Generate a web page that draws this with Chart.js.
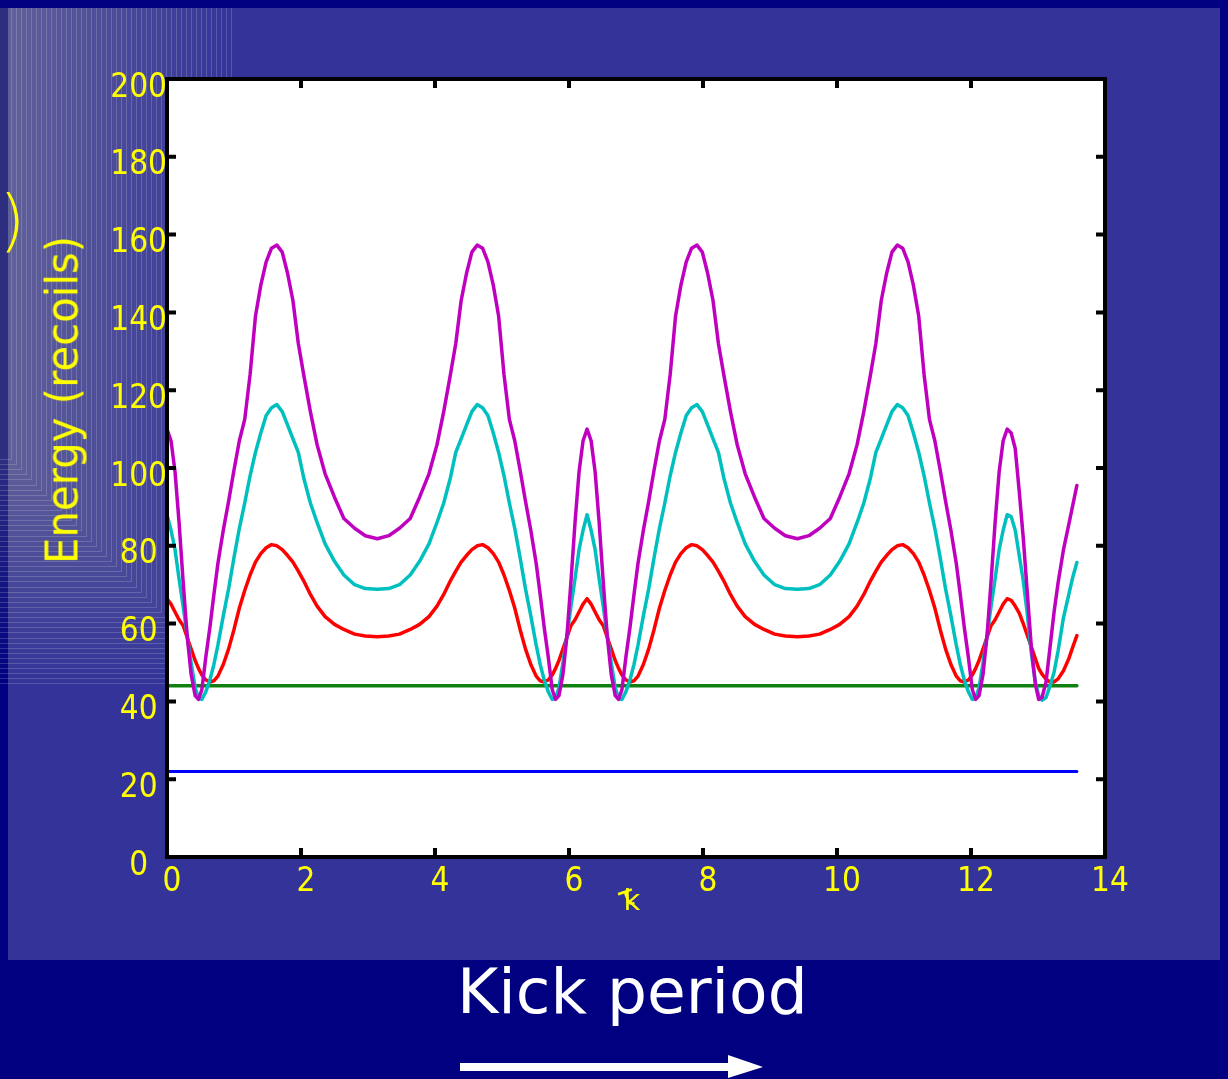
<!DOCTYPE html>
<html>
<head>
<meta charset="utf-8">
<script src="https://cdn.jsdelivr.net/npm/chart.js@4.4.1/dist/chart.umd.min.js"></script>
<style>
  html, body { margin: 0; padding: 0; }
  body { width: 1228px; height: 1079px; background: #000080; position: relative; overflow: hidden; font-family: 'DejaVu Sans', sans-serif; }
  #panel { position: absolute; left: 8px; top: 8px; width: 1212px; height: 952px; background: #333399; }
  #deco { position: absolute; left: 0; top: 0; width: 1228px; height: 1079px; }
  #deco div { position: absolute; box-sizing: border-box; border-right: 1px solid rgba(255,255,255,0.17); border-bottom: 1px solid rgba(255,255,255,0.17); background: rgba(255,255,255,0.0075); }
  #chart { position: absolute; left: 0; top: 0; }
  .txt { position: absolute; white-space: nowrap; line-height: 1; }
  #ytitle { left: 62px; top: 400px; font-size: 45px; color: #ffff00; transform: translate(-50%, -50%) rotate(-90deg) scaleX(0.93); }
  #paren { left: -1px; top: 187px; font-size: 68px; font-weight: 200; color: #ffff00; }
  #xtitle { left: 618px; top: 886px; font-size: 29px; color: #ffff00; }
  #xtitle .tau { display: inline-block; transform: rotate(-20deg); margin-right: -12px; position: relative; top: -4px; }
  #kick { left: 457px; top: 960px; font-size: 63px; color: #ffffff; }
  #arrow { position: absolute; left: 0; top: 0; }
</style>
</head>
<body>
<div id="panel"></div>
<div id="deco"></div>
<canvas id="chart" width="1228" height="1079"></canvas>
<div class="txt" id="paren">)</div>
<div class="txt" id="ytitle">Energy (recoils)</div>
<div class="txt" id="xtitle"><span class="tau">τ</span>k</div>
<div class="txt" id="kick">Kick period</div>
<svg id="arrow" width="1228" height="1079">
  <rect x="460" y="1063" width="270" height="8" fill="#ffffff"/>
  <polygon points="728,1055 763,1067 728,1078" fill="#ffffff"/>
</svg>
<script>
// ---- data ----
const kickPeriod = [
  0, 0.06, 0.12, 0.18, 0.24, 0.3, 0.36, 0.42, 0.47, 0.52, 0.58, 0.64, 0.7, 0.76, 0.84, 0.92, 1, 1.08, 1.16, 1.24, 1.32, 1.4, 1.48, 1.56, 1.64, 1.72, 1.8, 1.88, 1.96, 2.04, 2.14, 2.24, 2.36, 2.5, 2.64, 2.8, 2.96, 3.14,
  3.31, 3.47, 3.63, 3.77, 3.91, 4.03, 4.13, 4.23, 4.31, 4.39, 4.47, 4.55, 4.63, 4.71, 4.79, 4.87, 4.95, 5.03, 5.11, 5.19, 5.27, 5.35, 5.43, 5.51, 5.57, 5.63, 5.69, 5.75, 5.8, 5.85, 5.91, 5.97, 6.03, 6.09, 6.15, 6.21, 6.27,
  6.33, 6.39, 6.45, 6.51, 6.57, 6.63, 6.69, 6.74, 6.79, 6.85, 6.91, 6.97, 7.03, 7.11, 7.19, 7.27, 7.35, 7.43, 7.51, 7.59, 7.67, 7.75, 7.83, 7.91, 7.99, 8.07, 8.15, 8.23, 8.31, 8.41, 8.51, 8.63, 8.77, 8.91, 9.07, 9.23, 9.41,
  9.58, 9.74, 9.9, 10.04, 10.18, 10.3, 10.4, 10.5, 10.58, 10.66, 10.74, 10.82, 10.9, 10.98, 11.06, 11.14, 11.22, 11.3, 11.38, 11.46, 11.54, 11.62, 11.7, 11.78, 11.84, 11.9, 11.96, 12.02, 12.07, 12.12, 12.18, 12.24, 12.3, 12.36, 12.42, 12.48, 12.54,
  12.6, 12.66, 12.72, 12.78, 12.84, 12.9, 12.96, 13.01, 13.06, 13.12, 13.18, 13.24, 13.3, 13.38, 13.46, 13.52, 13.58
];
const energyMagenta = [
  110, 107, 99, 86, 71, 57, 47, 41.5, 40.5, 43, 51.5, 59, 67.5, 75.5, 84, 91.5, 99.5, 107, 112.5, 124, 139, 147, 153, 156.5, 157.3, 155.5, 150, 143, 132, 124, 114.5, 106, 98.5, 92.5, 87, 84.5, 82.6, 81.8,
  82.6, 84.5, 87, 92.5, 98.5, 106, 114.5, 124, 132, 143, 150, 155.5, 157.3, 156.5, 153, 147, 139, 124, 112.5, 107, 99.5, 91.5, 84, 75.5, 67.5, 59, 51.5, 43, 40.5, 41.5, 47, 57, 71, 86, 99, 107, 110,
  107, 99, 86, 71, 57, 47, 41.5, 40.5, 43, 51.5, 59, 67.5, 75.5, 84, 91.5, 99.5, 107, 112.5, 124, 139, 147, 153, 156.5, 157.3, 155.5, 150, 143, 132, 124, 114.5, 106, 98.5, 92.5, 87, 84.5, 82.6, 81.8,
  82.6, 84.5, 87, 92.5, 98.5, 106, 114.5, 124, 132, 143, 150, 155.5, 157.3, 156.5, 153, 147, 139, 124, 112.5, 107, 99.5, 91.5, 84, 75.5, 67.5, 59, 51.5, 43, 40.5, 41.5, 47, 57, 71, 86, 99, 107, 110,
  109, 105, 94, 82, 68, 54, 44.5, 40.5, 41, 45, 54, 63, 70.5, 79, 85.5, 90.5, 95.5
];
const energyCyan = [
  88, 84, 79, 71.5, 64.5, 57, 50, 43.5, 41, 40.5, 42.5, 45.5, 49.5, 54.5, 62, 69, 77, 84.5, 91, 98, 104, 109, 113.5, 115.5, 116.3, 114.5, 111, 107.5, 104, 97.5, 91, 86, 80.5, 76, 72.5, 70, 69, 68.8,
  69, 70, 72.5, 76, 80.5, 86, 91, 97.5, 104, 107.5, 111, 114.5, 116.3, 115.5, 113.5, 109, 104, 98, 91, 84.5, 77, 69, 62, 54.5, 49.5, 45.5, 42.5, 40.5, 41, 43.5, 50, 57, 64.5, 71.5, 79, 84, 88,
  84, 79, 71.5, 64.5, 57, 50, 43.5, 41, 40.5, 42.5, 45.5, 49.5, 54.5, 62, 69, 77, 84.5, 91, 98, 104, 109, 113.5, 115.5, 116.3, 114.5, 111, 107.5, 104, 97.5, 91, 86, 80.5, 76, 72.5, 70, 69, 68.8,
  69, 70, 72.5, 76, 80.5, 86, 91, 97.5, 104, 107.5, 111, 114.5, 116.3, 115.5, 113.5, 109, 104, 98, 91, 84.5, 77, 69, 62, 54.5, 49.5, 45.5, 42.5, 40.5, 41, 43.5, 50, 57, 64.5, 71.5, 79, 84, 88,
  87.5, 84, 77.5, 71, 62.5, 52.5, 45, 41.5, 40.3, 41, 44, 47.5, 53, 61.5, 67.5, 72, 75.7
];
const energyRed = [
  66.4, 65, 63, 61, 59.5, 56.5, 53.5, 50.5, 48.5, 46.8, 45.5, 45, 45.3, 46.5, 49.5, 53.5, 58.5, 64, 68.5, 72.5, 75.8, 78, 79.5, 80.3, 80, 79, 77.5, 75.8, 73.5, 71, 67.5, 64.5, 61.8, 59.8, 58.5, 57.3, 56.8, 56.6,
  56.8, 57.3, 58.5, 59.8, 61.8, 64.5, 67.5, 71, 73.5, 75.8, 77.5, 79, 80, 80.3, 79.5, 78, 75.8, 72.5, 68.5, 64, 58.5, 53.5, 49.5, 46.5, 45.3, 45, 45.5, 46.8, 48.5, 50.5, 53.5, 56.5, 59.5, 61, 63, 65, 66.4,
  65, 63, 61, 59.5, 56.5, 53.5, 50.5, 48.5, 46.8, 45.5, 45, 45.3, 46.5, 49.5, 53.5, 58.5, 64, 68.5, 72.5, 75.8, 78, 79.5, 80.3, 80, 79, 77.5, 75.8, 73.5, 71, 67.5, 64.5, 61.8, 59.8, 58.5, 57.3, 56.8, 56.6,
  56.8, 57.3, 58.5, 59.8, 61.8, 64.5, 67.5, 71, 73.5, 75.8, 77.5, 79, 80, 80.3, 79.5, 78, 75.8, 72.5, 68.5, 64, 58.5, 53.5, 49.5, 46.5, 45.3, 45, 45.5, 46.8, 48.5, 50.5, 53.5, 56.5, 59.5, 61, 63, 65, 66.4,
  66, 64.5, 62.7, 60, 57, 54, 51, 48.5, 47, 45.7, 45, 45, 45.8, 47.9, 51, 54, 56.9
];
const levelX = [0, 13.58];
const levelGreen = [44, 44];
const levelBlue = [22, 22];
const xTickValues = [0, 2, 4, 6, 8, 10, 12, 14];
const yTickValues = [0, 20, 40, 60, 80, 100, 120, 140, 160, 180, 200];

// ---- decorative nested frames in the top-left corner ----
(function () {
  const deco = document.getElementById('deco');
  for (let i = 44; i >= 0; i--) {
    const s = i * 5;
    const d = document.createElement('div');
    d.style.left = '0px';
    d.style.top = '8px';
    d.style.width = (12 + s) + 'px';
    d.style.height = (452 + s * 1.02) + 'px';
    deco.appendChild(d);
  }
})();

const pts = (xs, ys) => xs.map((x, i) => ({ x: x, y: ys[i] }));

const framePlugin = {
  id: 'framePlugin',
  beforeDraw(chart) {
    const { ctx, chartArea: a } = chart;
    ctx.save();
    ctx.fillStyle = '#ffffff';
    ctx.fillRect(a.left, a.top, a.right - a.left, a.bottom - a.top);
    ctx.restore();
  },
  afterDraw(chart) {
    const { ctx, chartArea: a, scales } = chart;
    ctx.save();
    ctx.strokeStyle = '#000000';
    ctx.lineWidth = 4;
    ctx.beginPath();
    for (const v of xTickValues) {
      const px = scales.x.getPixelForValue(v);
      ctx.moveTo(px, a.bottom); ctx.lineTo(px, a.bottom - 9);
      ctx.moveTo(px, a.top); ctx.lineTo(px, a.top + 9);
    }
    for (const v of yTickValues) {
      const py = scales.y.getPixelForValue(v);
      ctx.moveTo(a.left, py); ctx.lineTo(a.left + 9, py);
      ctx.moveTo(a.right, py); ctx.lineTo(a.right - 9, py);
    }
    ctx.stroke();
    ctx.strokeRect(a.left, a.top, a.right - a.left, a.bottom - a.top);
    ctx.restore();
  }
};

const tickFont = { family: "'DejaVu Sans Condensed', 'DejaVu Sans', sans-serif", size: 33 };

new Chart(document.getElementById('chart').getContext('2d'), {
  type: 'line',
  data: {
    datasets: [
      { data: pts(kickPeriod, energyMagenta), borderColor: 'rgb(191,0,191)', borderWidth: 3.5 },
      { data: pts(kickPeriod, energyCyan), borderColor: 'rgb(0,191,191)', borderWidth: 3.5 },
      { data: pts(kickPeriod, energyRed), borderColor: 'rgb(255,0,0)', borderWidth: 3.5 },
      { data: pts(levelX, levelGreen), borderColor: 'rgb(16,128,16)', borderWidth: 3.5 },
      { data: pts(levelX, levelBlue), borderColor: 'rgb(0,0,255)', borderWidth: 3 }
    ]
  },
  options: {
    responsive: false,
    animation: false,
    devicePixelRatio: 1,
    layout: { padding: { left: 0, top: 79, right: 123, bottom: 162 } },
    plugins: { legend: { display: false }, tooltip: { enabled: false } },
    elements: {
      point: { radius: 0, hoverRadius: 0 },
      line: { tension: 0, fill: false, borderCapStyle: 'round', borderJoinStyle: 'round' }
    },
    scales: {
      x: {
        type: 'linear', min: 0, max: 14,
        grid: { display: false, drawTicks: false },
        border: { display: false },
        afterBuildTicks: s => { s.ticks = xTickValues.map(v => ({ value: v })); },
        afterFit: s => { s.height = 60; },
        ticks: { color: '#ffff00', font: tickFont, padding: 6, labelOffset: 5, maxRotation: 0, autoSkip: false }
      },
      y: {
        type: 'linear', min: 0, max: 200,
        grid: { display: false, drawTicks: false },
        border: { display: false },
        afterBuildTicks: s => { s.ticks = yTickValues.map(v => ({ value: v })); },
        afterFit: s => { s.width = 167; },
        ticks: { color: '#ffff00', font: tickFont, padding: 0, crossAlign: 'center', labelOffset: 9, autoSkip: false }
      }
    }
  },
  plugins: [framePlugin]
});
</script>
</body>
</html>
